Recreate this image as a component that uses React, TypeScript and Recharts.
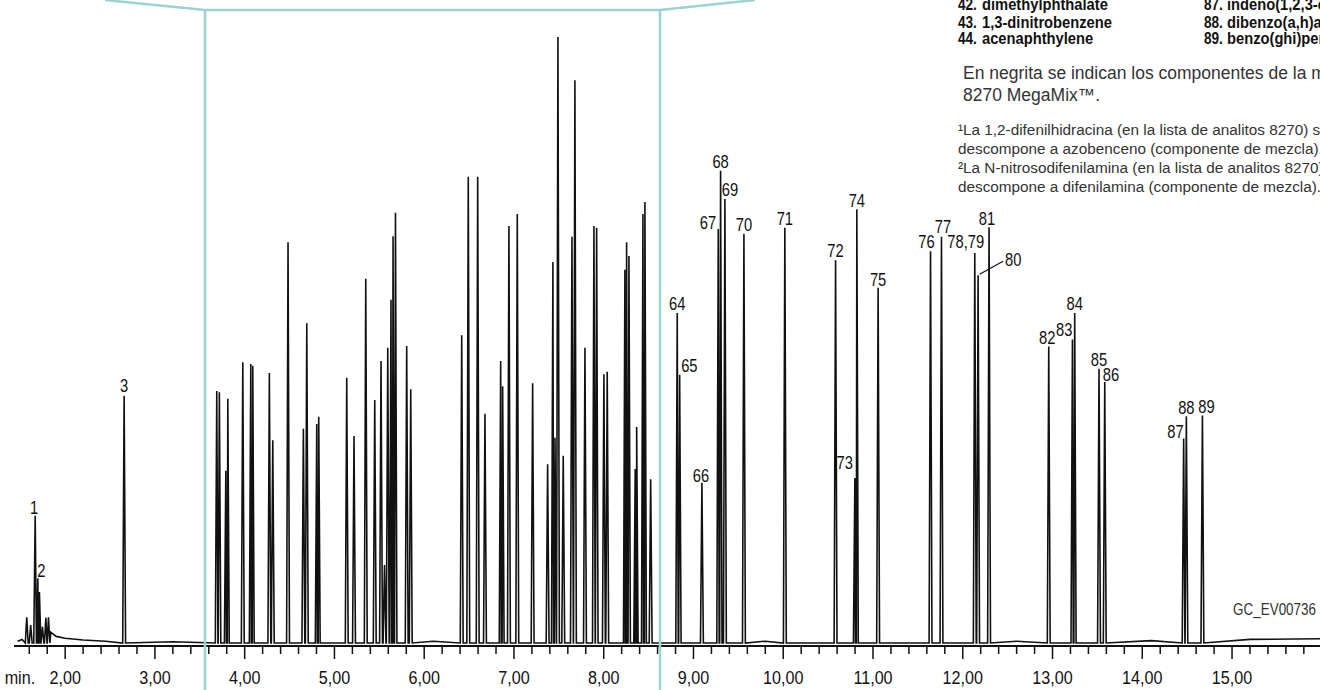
import React from 'react';
import { ComposedChart, Line, Scatter, XAxis, YAxis } from 'recharts';

interface Peak {
  t: number; // retention time, min
  h: number; // detector response (arbitrary units)
  label?: string;
}

// early solvent region + peak 3
const EARLY_PEAKS: Peak[] = [
  { t: 1.572, h: 4.3 },
  { t: 1.616, h: 3.0 },
  { t: 1.666, h: 21.2, label: '1' },
  { t: 1.696, h: 10.8, label: '2' },
  { t: 1.713, h: 8.5 },
  { t: 1.747, h: 2.7 },
  { t: 1.785, h: 4.2 },
  { t: 1.814, h: 4.3 },
  { t: 2.657, h: 41.2, label: '3' },
];

// crowded window 3.6 - 8.6 min (labelled in the expanded view)
const MID_PEAKS: Peak[] = [
  { t: 3.689, h: 42.0 }, { t: 3.718, h: 41.8 }, { t: 3.79, h: 28.7 }, { t: 3.812, h: 40.7 },
  { t: 3.979, h: 46.8 }, { t: 4.068, h: 46.5 }, { t: 4.09, h: 46.2 }, { t: 4.275, h: 45.0 },
  { t: 4.313, h: 33.8 }, { t: 4.483, h: 66.8 }, { t: 4.654, h: 35.7 }, { t: 4.692, h: 53.3 },
  { t: 4.803, h: 36.5 }, { t: 4.825, h: 37.7 }, { t: 5.137, h: 44.2 }, { t: 5.218, h: 34.5 },
  { t: 5.349, h: 60.7 }, { t: 5.449, h: 40.5 }, { t: 5.519, h: 47.0 }, { t: 5.558, h: 13.0 },
  { t: 5.594, h: 49.2 }, { t: 5.63, h: 57.2 }, { t: 5.653, h: 67.8 }, { t: 5.68, h: 71.7 },
  { t: 5.805, h: 49.5 }, { t: 5.85, h: 42.3 }, { t: 6.418, h: 51.3 }, { t: 6.491, h: 77.7 },
  { t: 6.596, h: 77.7 }, { t: 6.677, h: 38.2 }, { t: 6.852, h: 47.0 }, { t: 6.874, h: 42.8 },
  { t: 6.944, h: 69.5 }, { t: 7.037, h: 71.5 }, { t: 7.208, h: 43.3 }, { t: 7.375, h: 29.8 },
  { t: 7.434, h: 63.5 }, { t: 7.457, h: 34.2 }, { t: 7.49, h: 101.0 }, { t: 7.549, h: 31.2 },
  { t: 7.646, h: 67.7 }, { t: 7.679, h: 93.8 }, { t: 7.791, h: 49.2 }, { t: 7.891, h: 69.5 },
  { t: 7.921, h: 69.2 }, { t: 8.002, h: 44.8 }, { t: 8.039, h: 45.2 }, { t: 8.236, h: 62.2 },
  { t: 8.255, h: 66.8 }, { t: 8.281, h: 64.5 }, { t: 8.351, h: 29.0 }, { t: 8.367, h: 36.0 },
  { t: 8.437, h: 71.5 }, { t: 8.459, h: 73.5 }, { t: 8.523, h: 27.3 },
];

const LATE_PEAKS: Peak[] = [
  { t: 8.819, h: 55.0, label: '64' },
  { t: 8.846, h: 44.7, label: '65' },
  { t: 9.094, h: 26.7, label: '66' },
  { t: 9.276, h: 69.0, label: '67' },
  { t: 9.302, h: 78.7, label: '68' },
  { t: 9.35, h: 74.0, label: '69' },
  { t: 9.562, h: 68.2, label: '70' },
  { t: 10.018, h: 69.2, label: '71' },
  { t: 10.583, h: 63.8, label: '72' },
  { t: 10.798, h: 27.5, label: '73' },
  { t: 10.82, h: 72.3, label: '74' },
  { t: 11.057, h: 59.2, label: '75' },
  { t: 11.641, h: 65.3, label: '76' },
  { t: 11.763, h: 67.7, label: '77' },
  { t: 12.134, h: 65.0, label: '78,79' },
  { t: 12.171, h: 61.3, label: '80' },
  { t: 12.293, h: 69.3, label: '81' },
  { t: 12.958, h: 49.4, label: '82' },
  { t: 13.222, h: 50.6, label: '83' },
  { t: 13.247, h: 55.0, label: '84' },
  { t: 13.518, h: 45.7, label: '85' },
  { t: 13.582, h: 43.5, label: '86' },
  { t: 14.461, h: 34.1, label: '87' },
  { t: 14.491, h: 37.8, label: '88' },
  { t: 14.67, h: 37.9, label: '89' },
];

// baseline readings (start, solvent tail, end)
const BASELINE: [number, number][] = [
  [1.47, 0.3], [1.52, 0.6], [1.84, 1.8], [1.9, 1.1], [2.0, 0.8], [2.2, 0.5],
  [2.45, 0.3], [3.2, 0.2], [6.1, 0.3], [9.8, 0.3], [12.6, 0.3], [14.1, 0.4],
  [15.2, 0.6], [15.98, 0.7],
];

const MAJOR_TICKS = [2, 3, 4, 5, 6, 7, 8, 9, 10, 11, 12, 13, 14, 15];

const LIST_ROWS = [
  ['42.', 'dimethylphthalate', '87.', 'indeno(1,2,3-cd)pyrene'],
  ['43.', '1,3-dinitrobenzene', '88.', 'dibenzo(a,h)anthracene'],
  ['44.', 'acenaphthylene', '89.', 'benzo(ghi)perylene'],
];

const NOTE_LINES = ['En negrita se indican los componentes de la mezcla', '8270 MegaMix™.'];

const FOOTNOTES = [
  '¹La 1,2-difenilhidracina (en la lista de analitos 8270) se',
  'descompone a azobenceno (componente de mezcla).',
  '²La N-nitrosodifenilamina (en la lista de analitos 8270) se',
  'descompone a difenilamina (componente de mezcla).',
];

// label placement relative to the peak apex
const LABEL_OFFSETS: Record<string, { dx?: number; dy?: number; anchor?: string }> = {
  '1': { dx: -1, dy: -2 },
  '2': { dx: 3.5, dy: -1.5 },
  '3': { dy: -4 },
  '65': { dx: 1.5, dy: -3, anchor: 'start' },
  '66': { dx: -1, dy: -1 },
  '67': { dx: -2, dy: 0, anchor: 'end' },
  '69': { dx: 5, dy: -3.5 },
  '73': { dx: -2, dy: -9, anchor: 'end' },
  '74': { dy: -2 },
  '75': { dy: -2 },
  '76': { dx: -4, dy: -3 },
  '77': { dx: 1.5, dy: -3.5 },
  '78,79': { dx: -9, dy: -5 },
  '81': { dx: -2, dy: -2 },
  '82': { dx: -1.5, dy: -3 },
  '83': { dx: 0, dy: -3, anchor: 'end' },
  '86': { dx: -2, dy: -1, anchor: 'start' },
  '87': { dx: 0, dy: 0, anchor: 'end' },
  '88': { dy: -2 },
  '89': { dx: 4, dy: -2.5 },
};

const HALF_WIDTH = 0.016;
const INK = '#111';
const GREY = '#333';
const TEAL = '#9ad3d1';
const SANS = '"Liberation Sans", Arial, sans-serif';

const allPeaks = [...EARLY_PEAKS, ...MID_PEAKS, ...LATE_PEAKS];

const trace = [
  ...BASELINE.map(([t, v]) => ({ t, v })),
  ...allPeaks.flatMap((p) => [
    { t: p.t - HALF_WIDTH, v: 0 },
    { t: p.t, v: p.h },
    { t: p.t + HALF_WIDTH, v: 0 },
  ]),
].sort((a, b) => a.t - b.t);

const labelled = allPeaks.filter((p) => p.label).map((p) => ({ t: p.t, v: p.h, label: p.label }));

const tickValues: number[] = [];
for (let i = 8; i <= 79; i++) tickValues.push((i * 2) / 10);

// condensed text: Liberation Sans squeezed horizontally
const Narrow = ({ x, y, size, sx = 0.82, anchor = 'start', weight = 'normal', fill = INK, children }: any) => (
  <text
    transform={`translate(${x},${y}) scale(${sx},1)`}
    textAnchor={anchor}
    fontFamily={SANS}
    fontSize={size}
    fontWeight={weight}
    fill={fill}
  >
    {children}
  </text>
);

const AxisTick = (props: any) => {
  const { x, y, payload } = props;
  const v = payload.value;
  const major = MAJOR_TICKS.includes(v);
  return (
    <g>
      <line x1={x} x2={x} y1={y} y2={y + (major ? 13 : 8)} stroke={INK} strokeWidth={1.5} />
      {major && (
        <Narrow x={x} y={y + 38} size={19} sx={0.85} anchor="middle">
          {v.toFixed(2).replace('.', ',')}
        </Narrow>
      )}
      {major && v === 2 && (
        <Narrow x={x - 30} y={y + 38} size={19} sx={0.85} anchor="end">
          min.
        </Narrow>
      )}
    </g>
  );
};

const PeakLabel = (props: any) => {
  const { cx, cy, payload } = props;
  if (!payload || !payload.label) return <g />;
  if (payload.label === '80') {
    return (
      <g>
        <line x1={cx + 1.5} y1={cy - 1} x2={cx + 25} y2={cy - 14} stroke={INK} strokeWidth={1.2} />
        <Narrow x={cx + 27} y={cy - 9} size={18}>
          80
        </Narrow>
      </g>
    );
  }
  const o = LABEL_OFFSETS[payload.label] || {};
  return (
    <Narrow x={cx + (o.dx ?? 0)} y={cy + (o.dy ?? -3)} size={18} anchor={o.anchor ?? 'middle'}>
      {payload.label}
    </Narrow>
  );
};

export default function App() {
  return (
    <div style={{ position: 'absolute', left: 0, top: 0, width: 1320, height: 690, background: '#fff', overflow: 'hidden' }}>
      <ComposedChart width={1320} height={690} margin={{ top: 28, right: 0, bottom: 0, left: 14 }}>
        <XAxis
          dataKey="t"
          type="number"
          domain={[1.43, 15.98]}
          allowDataOverflow
          ticks={tickValues}
          interval={0}
          tickSize={0}
          tickMargin={0}
          tickLine={false}
          tick={<AxisTick />}
          height={44}
          axisLine={{ stroke: INK, strokeWidth: 1.8 }}
        />
        <YAxis type="number" domain={[-0.5, 102.5]} allowDataOverflow hide />
        <Line
          data={trace}
          dataKey="v"
          type="linear"
          stroke={INK}
          strokeWidth={1.6}
          dot={false}
          activeDot={false}
          isAnimationActive={false}
        />
        <Scatter data={labelled} dataKey="v" shape={<PeakLabel />} isAnimationActive={false} />
      </ComposedChart>

      <svg width={1320} height={690} style={{ position: 'absolute', left: 0, top: 0, pointerEvents: 'none' }}>
        <polyline points="105,0 205,10 660,10 755,0" fill="none" stroke={TEAL} strokeWidth={2.5} />
        <line x1={205} y1={10} x2={205} y2={690} stroke={TEAL} strokeWidth={2.5} />
        <line x1={660} y1={10} x2={660} y2={690} stroke={TEAL} strokeWidth={2.5} />

        {LIST_ROWS.map((row, i) => {
          const y = [10, 28, 44][i];
          return (
            <g key={row[0]}>
              <Narrow x={958} y={y} size={16} sx={0.85} weight="bold">{row[0]}</Narrow>
              <Narrow x={982} y={y} size={16} sx={0.92} weight="bold">{row[1]}</Narrow>
              <Narrow x={1204} y={y} size={16} sx={0.85} weight="bold">{row[2]}</Narrow>
              <Narrow x={1227} y={y} size={16} sx={0.92} weight="bold">{row[3]}</Narrow>
            </g>
          );
        })}
        {NOTE_LINES.map((s, i) => (
          <Narrow key={s} x={963} y={79 + i * 22} size={17.5} sx={1} fill={GREY}>
            {s}
          </Narrow>
        ))}
        {FOOTNOTES.map((s, i) => (
          <Narrow key={s} x={958} y={135 + i * 19} size={15.3} sx={1} fill={GREY}>
            {s}
          </Narrow>
        ))}
        <Narrow x={1316} y={615} size={16} sx={0.84} anchor="end" fill={GREY}>
          GC_EV00736
        </Narrow>
      </svg>
    </div>
  );
}
